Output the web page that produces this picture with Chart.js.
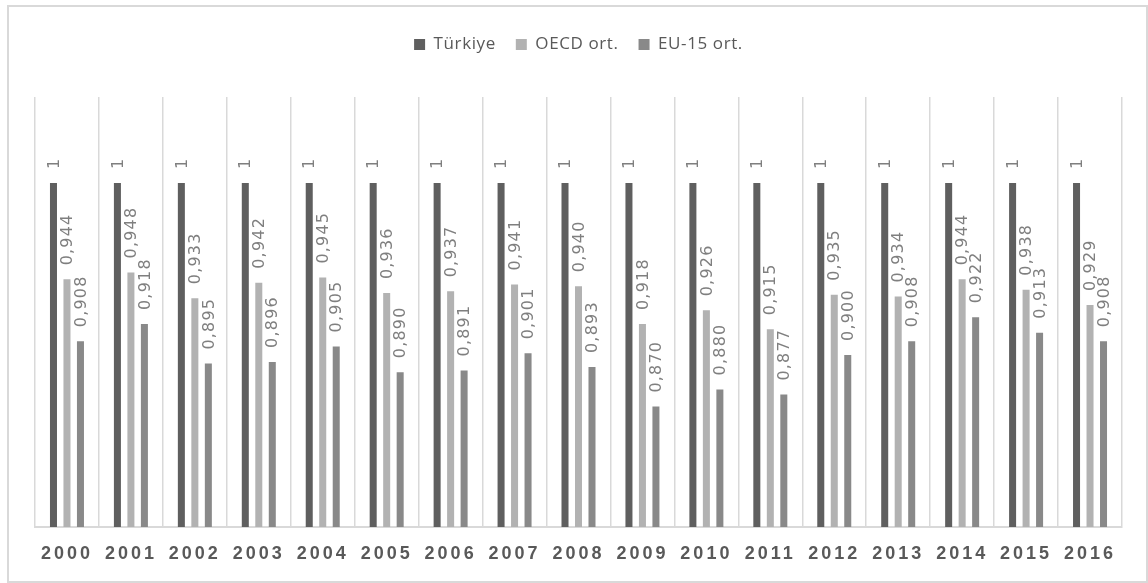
<!DOCTYPE html>
<html>
<head>
<meta charset="utf-8">
<script src="https://cdn.jsdelivr.net/npm/chart.js@4.4.1/dist/chart.umd.min.js"></script>
<style>
  html, body { margin: 0; padding: 0; background: #ffffff; }
  #wrap { width: 1148px; height: 583px; position: relative; }
</style>
</head>
<body>
<div id="wrap"><canvas id="c" width="1148" height="583"></canvas></div>
<script>
const categories = ['2000','2001','2002','2003','2004','2005','2006','2007','2008','2009','2010','2011','2012','2013','2014','2015','2016'];
const turkiye = [1,1,1,1,1,1,1,1,1,1,1,1,1,1,1,1,1];
const oecd = [0.944,0.948,0.933,0.942,0.945,0.936,0.937,0.941,0.940,0.918,0.926,0.915,0.935,0.934,0.944,0.938,0.929];
const eu15 = [0.908,0.918,0.895,0.896,0.905,0.890,0.891,0.901,0.893,0.870,0.880,0.877,0.900,0.908,0.922,0.913,0.908];
const seriesNames = ['Türkiye','OECD ort.','EU-15 ort.'];
const seriesColors = ['#5f5f5f','#b2b2b2','#898989'];

function fmt(v) {
  if (v === 1) return '1';
  return v.toFixed(3).replace('.', ',');
}

const frameAndSpacing = {
  id: 'frameAndSpacing',
  beforeInit(chart) {
    const lg = chart.legend;
    if (lg) {
      const origFit = lg.fit;
      lg.fit = function () {
        const ctx = this.ctx;
        const prev = ctx.letterSpacing;
        ctx.letterSpacing = '0.6px';
        origFit.call(this);
        ctx.letterSpacing = prev || '0px';
        this.height = 81;
      };
      const origDraw = lg.draw;
      lg.draw = function () {
        const ctx = this.ctx;
        const prev = ctx.letterSpacing;
        ctx.letterSpacing = '0.6px';
        origDraw.apply(this, arguments);
        ctx.letterSpacing = prev || '0px';
      };
    }
  },
  beforeDraw(chart) {
    const ctx = chart.ctx;
    ctx.save();
    ctx.fillStyle = '#ffffff';
    ctx.fillRect(0, 0, chart.width, chart.height);
    ctx.strokeStyle = '#d9d9d9';
    ctx.lineWidth = 2;
    ctx.strokeRect(8, 6, 1139, 576);
    ctx.restore();
    ctx.letterSpacing = '3px';
  },
  beforeDatasetsDraw(chart) {
    chart.ctx.letterSpacing = '0px';
  },
  afterDatasetsDraw(chart) {
    const ctx = chart.ctx;
    ctx.save();
    ctx.letterSpacing = '1.2px';
    ctx.font = '16px "DejaVu Sans", Verdana, sans-serif';
    ctx.fillStyle = '#7f7f7f';
    ctx.textAlign = 'left';
    ctx.textBaseline = 'middle';
    chart.data.datasets.forEach((ds, di) => {
      const meta = chart.getDatasetMeta(di);
      meta.data.forEach((bar, i) => {
        ctx.save();
        ctx.translate(bar.x + 1, bar.y - 14);
        ctx.rotate(-Math.PI / 2);
        ctx.fillText(fmt(ds.data[i]), 0, 0);
        ctx.restore();
      });
    });
    ctx.restore();
  }
};

new Chart(document.getElementById('c'), {
  type: 'bar',
  data: {
    labels: categories,
    datasets: [
      { label: seriesNames[0], data: turkiye, backgroundColor: seriesColors[0] },
      { label: seriesNames[1], data: oecd, backgroundColor: seriesColors[1] },
      { label: seriesNames[2], data: eu15, backgroundColor: seriesColors[2] }
    ]
  },
  options: {
    responsive: false,
    animation: false,
    devicePixelRatio: 1,
    layout: { padding: { left: 35, right: 26, top: 16, bottom: 0 } },
    datasets: { bar: { categoryPercentage: 0.633, barPercentage: 0.52 } },
    plugins: {
      legend: {
        position: 'top',
        align: 'center',
        labels: {
          boxWidth: 11,
          boxHeight: 11,
          padding: 20,
          color: '#595959',
          font: { family: '"Open Sans", sans-serif', size: 17 }
        }
      },
      tooltip: { enabled: false }
    },
    scales: {
      x: {
        afterFit(scale) { scale.height = 56; },
        grid: { display: true, offset: true, color: '#d9d9d9', lineWidth: 1.5, drawTicks: false },
        border: { display: true, color: '#d9d9d9', width: 2 },
        ticks: {
          color: '#595959',
          padding: 16,
          maxRotation: 0,
          autoSkip: false,
          font: { family: '"Liberation Sans", Arial, sans-serif', size: 18, weight: 'bold' }
        }
      },
      y: {
        display: false,
        min: 0.8,
        max: 1.05
      }
    }
  },
  plugins: [frameAndSpacing]
});
</script>
</body>
</html>
